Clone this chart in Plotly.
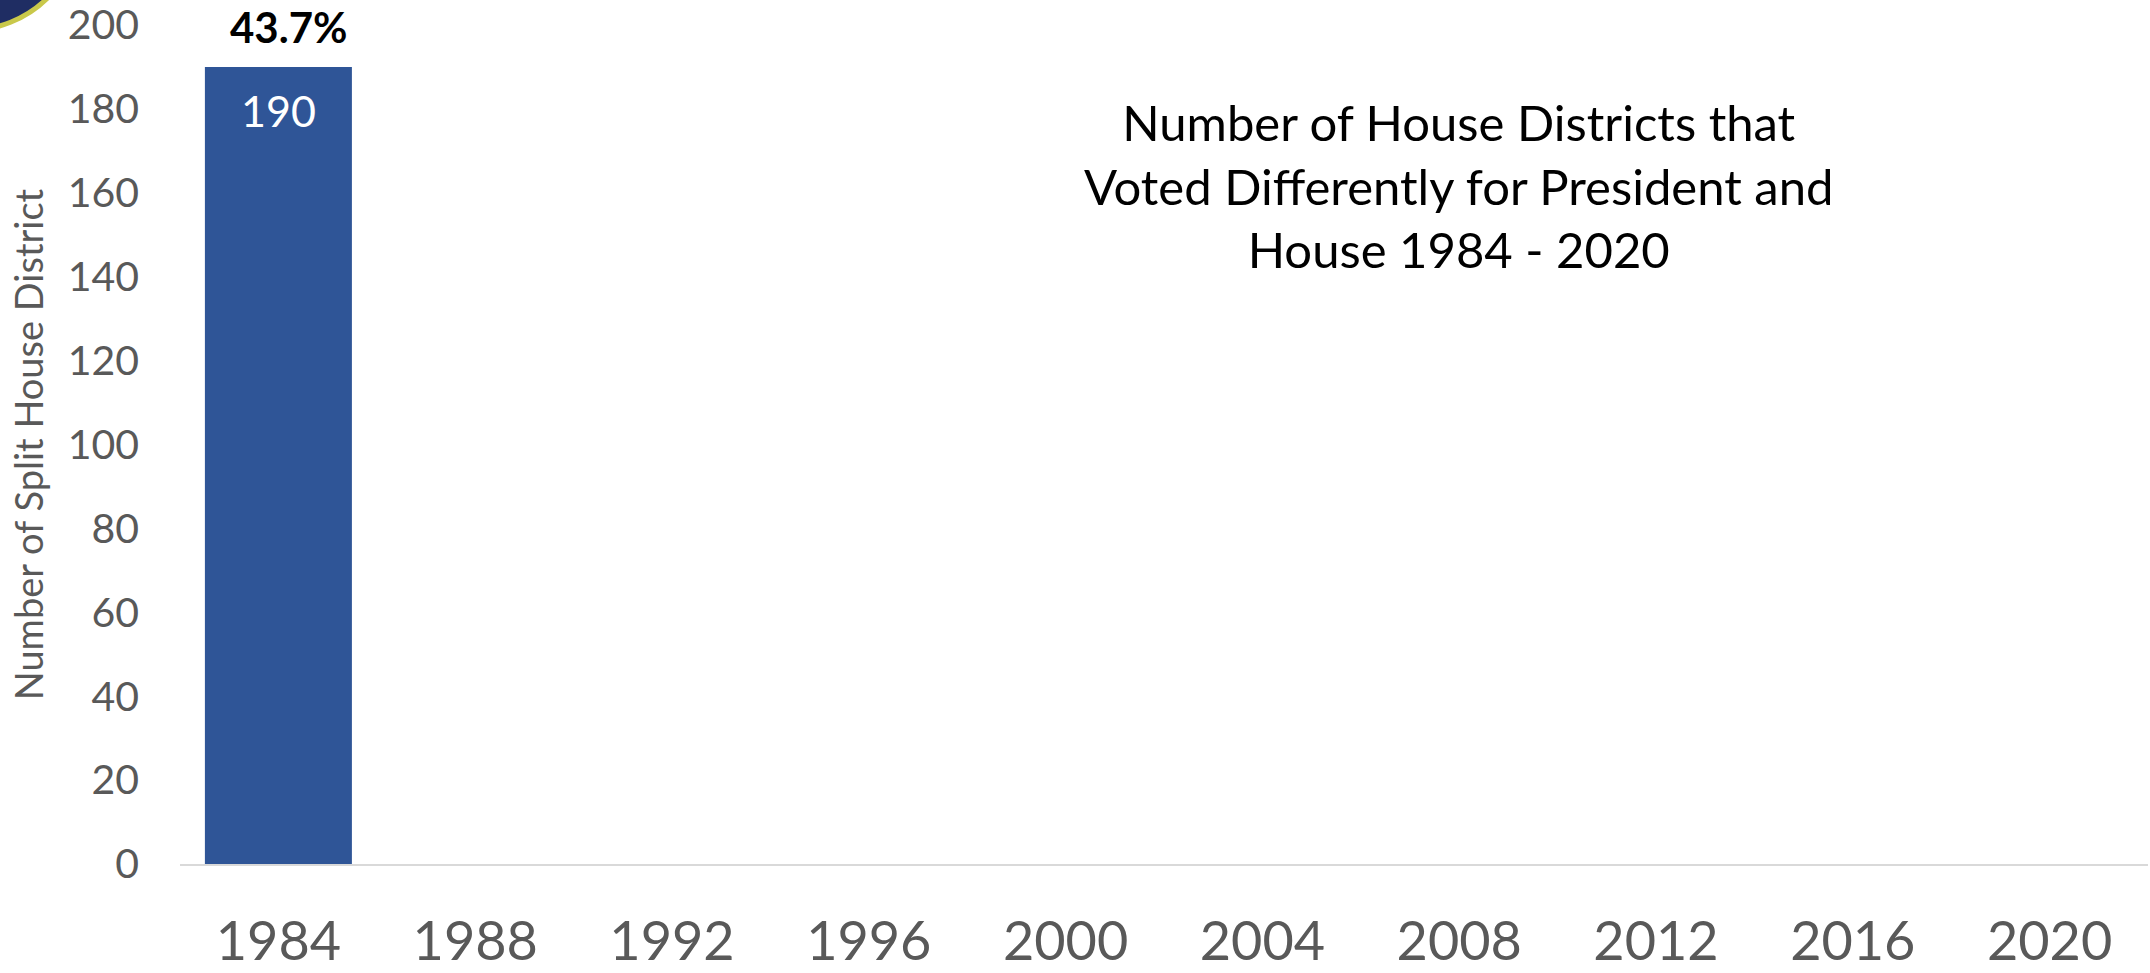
import plotly.graph_objects as go

# Election years on the category axis
years = ["1984", "1988", "1992", "1996", "2000", "2004", "2008", "2012", "2016", "2020"]
# Split districts per year (only 1984 revealed so far)
split_districts = [190, None, None, None, None, None, None, None, None, None]
# Share of all House districts that were split
split_share = ["43.7%", "", "", "", "", "", "", "", "", ""]

W, H = 2150, 973
L, R, T, B = 180, 2, 25, 109
plot_w = W - L - R
plot_h = H - T - B

FONT = "Lato"
GRAY = "#595959"
BAR = "#2F5597"


def px_x(p):
    return (p - L) / plot_w


def px_y(p):
    return (H - B - p) / plot_h


fig = go.Figure()

fig.add_trace(go.Bar(
    x=years,
    y=split_districts,
    marker=dict(color=BAR, line=dict(width=0)),
    hoverinfo="x+y",
    showlegend=False,
))

# Value inside the top of each bar, share above it
for i, (v, pct) in enumerate(zip(split_districts, split_share)):
    if v is None:
        continue
    fig.add_annotation(
        x=i, y=v, xref="x", yref="y",
        text=str(v), showarrow=False,
        xanchor="center", yanchor="middle", yshift=-44,
        font=dict(family=FONT, size=43, color="white"),
    )
    if pct:
        fig.add_annotation(
            x=i, y=v, xref="x", yref="y",
            text="<b>%s</b>" % pct, showarrow=False,
            xanchor="center", yanchor="middle", xshift=10, yshift=40,
            borderpad=0,
            font=dict(family=FONT, size=42, color="black"),
        )

# Chart title placed inside the plot area
fig.add_annotation(
    x=px_x(1458), y=px_y(186),
    xref="paper", yref="paper",
    text="Number of House Districts that<br>Voted Differently for President and<br>House 1984 - 2020",
    showarrow=False, align="center",
    xanchor="center", yanchor="middle",
    font=dict(family=FONT, size=49, color="black"),
)

# Corner seal fragment
fig.add_shape(
    type="circle", xref="paper", yref="paper",
    x0=px_x(-140), x1=px_x(80), y0=px_y(30), y1=px_y(-190),
    fillcolor="#1f2d63", line=dict(color="#c9c84a", width=5),
    layer="above",
)

fig.update_layout(
    width=W, height=H,
    margin=dict(l=L, r=R, t=T, b=B, autoexpand=False),
    paper_bgcolor="white", plot_bgcolor="white",
    bargap=0.253,
    font=dict(family=FONT, color=GRAY),
    xaxis=dict(
        type="category",
        categoryorder="array", categoryarray=years,
        range=[-0.5, len(years) - 0.5],
        showgrid=False,
        showline=True, linecolor="#D9D9D9", linewidth=2,
        ticks="",
        tickfont=dict(family=FONT, size=54, color=GRAY),
        ticklabelstandoff=29,
        ticklabeloverflow="allow",
        fixedrange=True,
    ),
    yaxis=dict(
        range=[0, 200],
        tickvals=list(range(0, 201, 20)),
        showgrid=False, zeroline=False, showline=False,
        ticks="",
        tickfont=dict(family=FONT, size=41, color=GRAY),
        ticklabelstandoff=40,
        ticklabeloverflow="allow",
        title=dict(
            text="Number of Split House District",
            font=dict(family=FONT, size=38, color=GRAY),
            standoff=12,
        ),
        automargin=False,
        fixedrange=True,
    ),
)

fig.write_html("out.html")
